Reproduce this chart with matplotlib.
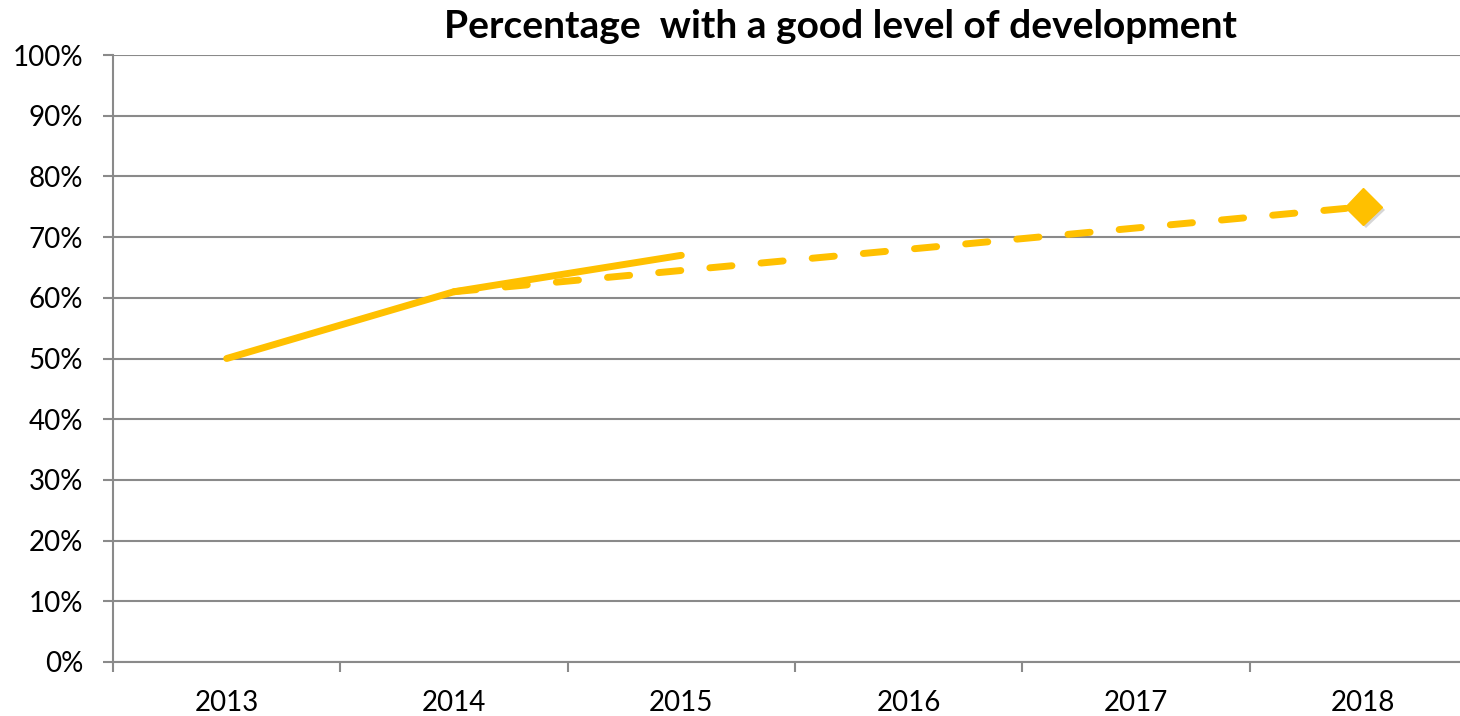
import matplotlib
matplotlib.use("Agg")
import matplotlib.pyplot as plt
import matplotlib.patheffects as pe

years = ["2013", "2014", "2015", "2016", "2017", "2018"]
actual = [50, 61, 67]                   # solid line, 2013-2015
target = [61, 64.5, 68, 71.5, 75]       # dashed line, 2014-2018
title = "Percentage  with a good level of development"

gold = "#FFC000"
grey = "#8A8A8A"

plt.rcParams["font.family"] = ["Lato", "DejaVu Sans"]

fig = plt.figure(figsize=(14.6, 7.16), dpi=100)
ax = fig.add_axes([113 / 1460, 54 / 716, 1364 / 1460, 607 / 716])

x_act = list(range(len(actual)))
x_tgt = list(range(1, 1 + len(target)))

ax.plot(x_act, actual, color=gold, lw=5, solid_capstyle="round",
        solid_joinstyle="round", zorder=3)
ax.plot(x_tgt, target, color=gold, lw=5, dashes=(3.2, 4.2),
        dash_capstyle="round", zorder=3)
# diamond marker on the last point, with a soft shadow
ax.plot(x_tgt[-1:], target[-1:], "D", color=gold, ms=19, zorder=4,
        path_effects=[pe.SimplePatchShadow(offset=(2, -2), shadow_rgbFace="#999999", alpha=0.4),
                      pe.Normal()])

ax.set_xlim(-0.5, len(years) - 0.5)
ax.set_ylim(0, 100)
ax.set_yticks(range(0, 101, 10))
ax.set_yticklabels([f"{v}%" for v in range(0, 101, 10)])
ax.grid(axis="y", color=grey, lw=1.5)
ax.set_axisbelow(True)

# category boundaries as tick marks, labels in the middle
ax.set_xticks([i - 0.5 for i in range(len(years) + 1)])
ax.set_xticklabels([])
ax.set_xticks(range(len(years)), minor=True)
ax.set_xticklabels(years, minor=True)
ax.tick_params(axis="x", which="major", length=7.5, width=1.5, color=grey)
ax.tick_params(axis="x", which="minor", length=0, pad=20, labelsize=20)
ax.tick_params(axis="y", length=7.5, width=1.5, color=grey, pad=14, labelsize=20)

for s in ["top", "right"]:
    ax.spines[s].set_visible(False)
for s in ["left", "bottom"]:
    ax.spines[s].set_color(grey)
    ax.spines[s].set_linewidth(1.5)

fig.text(840 / 1460, 1 - 27 / 716, title, ha="center", va="center",
         fontsize=28, fontweight="bold")

fig.savefig("out.png", dpi=100)
